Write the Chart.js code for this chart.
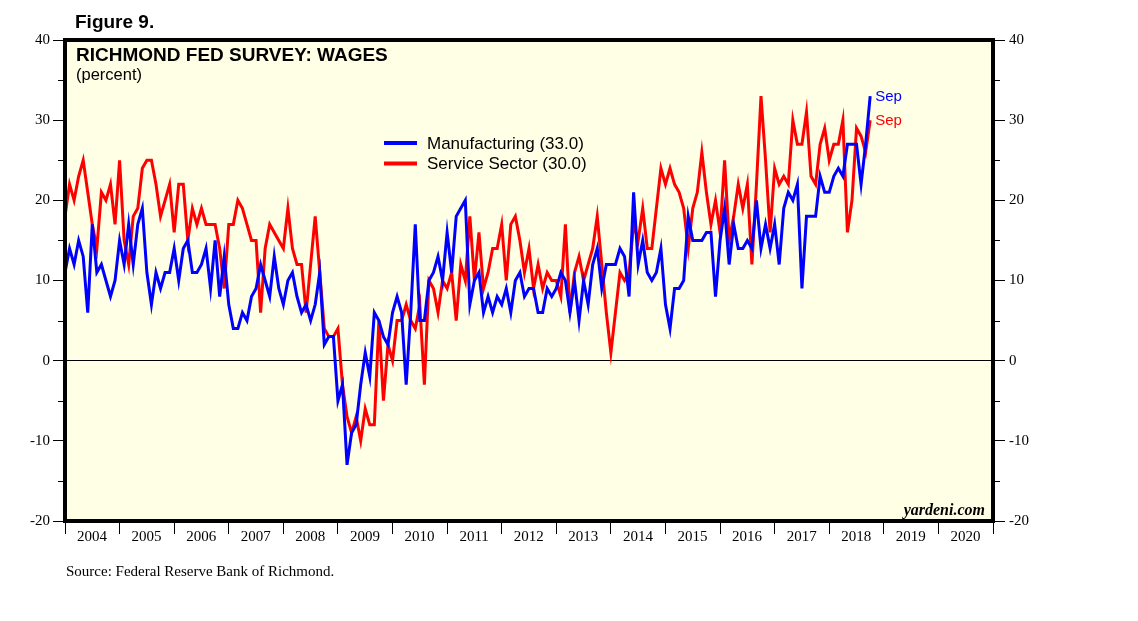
<!DOCTYPE html>
<html>
<head>
<meta charset="utf-8">
<title>Richmond Fed Survey: Wages</title>
<script src="https://cdn.jsdelivr.net/npm/chart.js@4.4.1/dist/chart.umd.min.js"></script>
<style>
  html, body { margin: 0; padding: 0; background: #fff; }
  #wrap { width: 1138px; height: 621px; }
</style>
</head>
<body>
<div id="wrap"><canvas id="wagesChart" width="1138" height="621"></canvas></div>
<script>
// Monthly readings Dec 2003 .. Sep 2018
const startYear = 2003;
const startMonth = 11; // December (0-based)

const manufacturing = [
  11, 14, 12, 15, 13, 6, 17, 11, 12, 10, 8, 10, 15, 12, 17, 12, 17, 19, 11, 7, 11, 9, 11, 11, 14, 10,
  14, 15, 11, 11, 12, 14, 9, 15, 8, 13, 7, 4, 4, 6, 5, 8, 9, 12, 10, 8, 13, 9, 7, 10, 11,
  8, 6, 7, 5, 7, 11, 2, 3, 3, -5, -3, -13, -9, -8, -3, 1, -2, 6, 5, 3, 2, 6, 8, 6,
  -3, 6, 17, 5, 5, 10, 11, 13, 10, 16, 11, 18, 19, 20, 7, 10, 11, 6, 8, 6, 8, 7, 9, 6,
  10, 11, 8, 9, 9, 6, 6, 9, 8, 9, 11, 10, 6, 10, 5, 10, 7, 12, 14, 9, 12, 12, 12, 14, 13,
  8, 21, 12, 15, 11, 10, 11, 14, 7, 4, 9, 9, 10, 18, 15, 15, 15, 16, 16, 8, 15, 19, 12,
  17, 14, 14, 15, 14, 20, 14, 17, 14, 17, 12, 19, 21, 20, 22, 9, 18, 18, 18, 23, 21, 21, 23, 24,
  23, 27, 27, 27, 22, 27, 33
];

const serviceSector = [
  18, 22, 20, 23, 25, 21, 17, 14, 21, 20, 22, 17, 25, 15, 12, 18, 19, 24, 25, 25, 22, 18, 20, 22, 16, 22,
  22, 15, 19, 17, 19, 17, 17, 17, 14, 9, 17, 17, 20, 19, 17, 15, 15, 6, 14, 17, 16, 15, 14, 19, 14,
  12, 12, 6, 12, 18, 11, 4, 3, 3, 4, -3, -7, -9, -7, -10, -6, -8, -8, 5, -5, 2, 0, 5, 5,
  7, 5, 4, 7, -3, 10, 9, 6, 10, 9, 11, 5, 12, 10, 18, 10, 16, 9, 11, 14, 14, 17, 10, 17,
  18, 15, 11, 14, 9, 12, 9, 11, 10, 10, 8, 17, 6, 11, 13, 10, 12, 14, 18, 12, 6, 1, 6, 11, 10,
  11, 17, 15, 19, 14, 14, 19, 24, 22, 24, 22, 21, 19, 14, 19, 21, 26, 21, 17, 20, 16, 25, 15,
  18, 22, 19, 22, 12, 22, 33, 25, 16, 24, 22, 23, 22, 30, 27, 27, 31, 23, 22, 27, 29, 25, 27, 27,
  30, 16, 20, 29, 28, 26, 30
];

const seriesLabels = ["Manufacturing", "Service Sector"];
const seriesColors = ["#0000ff", "#ff0000"];
const yearLabels = ["2004", "2005", "2006", "2007", "2008", "2009", "2010", "2011", "2012",
                    "2013", "2014", "2015", "2016", "2017", "2018", "2019", "2020"];
const monthNames = ["Jan", "Feb", "Mar", "Apr", "May", "Jun", "Jul", "Aug", "Sep", "Oct", "Nov", "Dec"];

const axisStart = 2004 * 12; // x axis counts months from Jan 2004

// each reading sits at the end of its month
function toPoints(values) {
  return values.map((v, i) => ({ x: startYear * 12 + startMonth + i + 1 - axisStart, y: v }));
}

const serif = "'Liberation Serif', 'Times New Roman', serif";
const sans = "'Liberation Sans', Arial, sans-serif";

const decorations = {
  id: "decorations",
  beforeDraw(chart) {
    const { ctx, chartArea: a } = chart;
    ctx.save();
    ctx.fillStyle = "#fff";
    ctx.fillRect(0, 0, chart.width, chart.height);
    ctx.fillStyle = "#ffffe6";
    ctx.fillRect(a.left, a.top, a.right - a.left, a.bottom - a.top);
    ctx.restore();
  },
  afterDatasetsDraw(chart) {
    const { ctx, chartArea: a } = chart;
    const yScale = chart.scales.y;
    ctx.save();

    // frame
    ctx.strokeStyle = "#000";
    ctx.lineWidth = 4;
    ctx.strokeRect(a.left, a.top, a.right - a.left, a.bottom - a.top);

    // minor ticks at the 5s
    ctx.lineWidth = 1;
    ctx.beginPath();
    for (let v = -15; v < 40; v += 10) {
      const y = Math.round(yScale.getPixelForValue(v)) + 0.5;
      ctx.moveTo(a.left - 7, y); ctx.lineTo(a.left, y);
      ctx.moveTo(a.right, y); ctx.lineTo(a.right + 7, y);
    }
    ctx.stroke();

    ctx.fillStyle = "#000";
    ctx.textBaseline = "alphabetic";
    ctx.textAlign = "left";
    ctx.font = "bold 19px " + sans;
    ctx.fillText("Figure 9.", 75, 28);
    ctx.font = "bold 19px " + sans;
    ctx.fillText("RICHMOND FED SURVEY: WAGES", 76, 61);
    ctx.font = "16.5px " + sans;
    ctx.fillText("(percent)", 76, 80);

    ctx.font = "italic bold 16px " + serif;
    ctx.textAlign = "right";
    ctx.fillText("yardeni.com", 985, 515);

    ctx.textAlign = "left";
    ctx.font = "15px " + serif;
    ctx.fillText("Source: Federal Reserve Bank of Richmond.", 66, 576);

    // legend
    const series = [manufacturing, serviceSector];
    ctx.font = "17px " + sans;
    ctx.textBaseline = "middle";
    series.forEach((vals, k) => {
      const y = 143 + k * 20.5;
      ctx.strokeStyle = seriesColors[k];
      ctx.lineWidth = 4;
      ctx.beginPath();
      ctx.moveTo(384, y); ctx.lineTo(417, y);
      ctx.stroke();
      ctx.fillStyle = "#000";
      ctx.fillText(seriesLabels[k] + " (" + vals[vals.length - 1].toFixed(1) + ")", 427, y + 1);
    });

    // month tag at the last reading
    ctx.font = "15px " + sans;
    chart.data.datasets.forEach((ds, k) => {
      const meta = chart.getDatasetMeta(k);
      const last = meta.data[meta.data.length - 1];
      const m = (startMonth + ds.data.length - 1) % 12;
      ctx.fillStyle = seriesColors[k];
      ctx.fillText(monthNames[m], last.x + 5, last.y + 1);
    });

    ctx.restore();
  }
};

new Chart(document.getElementById("wagesChart"), {
  type: "line",
  data: {
    datasets: [
      { label: seriesLabels[0], data: toPoints(manufacturing), borderColor: seriesColors[0], borderWidth: 3,
        pointRadius: 0, tension: 0, fill: false },
      { label: seriesLabels[1], data: toPoints(serviceSector), borderColor: seriesColors[1], borderWidth: 3,
        pointRadius: 0, tension: 0, fill: false }
    ]
  },
  options: {
    responsive: false,
    animation: false,
    devicePixelRatio: 1,
    layout: { padding: { top: 40, right: 100, bottom: 70, left: 0 } },
    plugins: { legend: { display: false }, tooltip: { enabled: false } },
    scales: {
      x: {
        type: "linear",
        min: 0,
        max: 204,
        ticks: {
          stepSize: 12,
          autoSkip: false,
          maxRotation: 0,
          labelOffset: 27,
          padding: -6,
          color: "#000",
          font: { family: serif, size: 15 },
          callback: (v) => yearLabels[v / 12] || ""
        },
        grid: { drawOnChartArea: false, tickColor: "#000", tickLength: 13, lineWidth: 1 },
        border: { display: false },
        afterFit: (s) => { s.height = 30; }
      },
      y: {
        position: "left",
        min: -20,
        max: 40,
        ticks: { stepSize: 10, padding: 3, color: "#000", font: { family: serif, size: 15 } },
        grid: {
          color: (c) => (c.tick && c.tick.value === 0 ? "#000" : "rgba(0,0,0,0)"),
          tickColor: "#000",
          tickLength: 12,
          lineWidth: 1
        },
        border: { display: false },
        afterFit: (s) => { s.width = 65; }
      },
      y2: {
        position: "right",
        min: -20,
        max: 40,
        ticks: { stepSize: 10, padding: 4, color: "#000", font: { family: serif, size: 15 } },
        grid: { drawOnChartArea: false, tickColor: "#000", tickLength: 12, lineWidth: 1 },
        border: { display: false },
        afterFit: (s) => { s.width = 45; }
      }
    }
  },
  plugins: [decorations]
});
</script>
</body>
</html>
